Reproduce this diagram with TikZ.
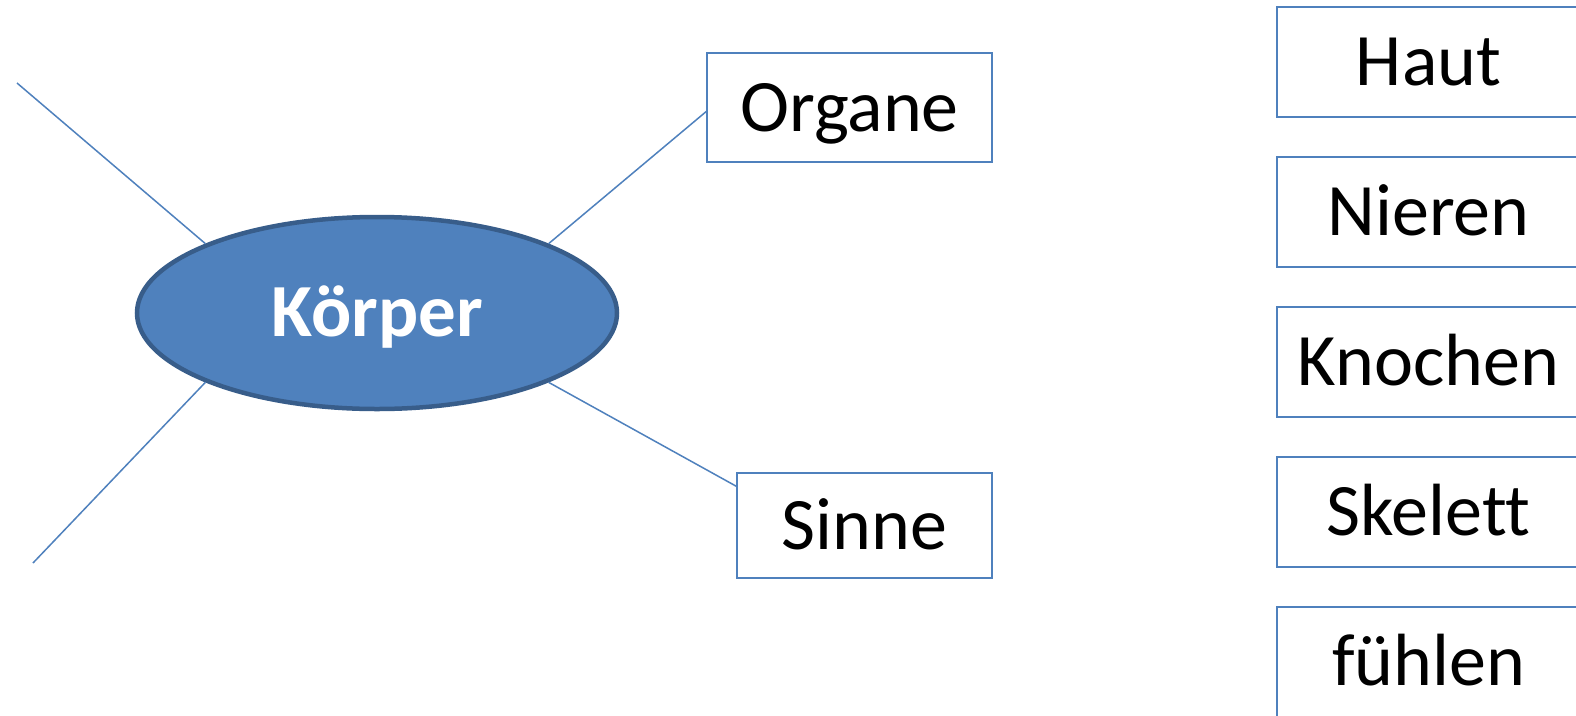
\documentclass[tikz,border=0pt]{standalone}
\usepackage{fontspec}
\setmainfont{Carlito}[Ligatures={NoCommon}]
\usetikzlibrary{shapes.geometric,calc}
\definecolor{accent}{HTML}{4F81BD}
\definecolor{accentdark}{HTML}{385D8A}
\begin{document}
\begin{tikzpicture}[x=1pt,y=-1pt,
  lbl/.style={font=\fontsize{74}{80}\selectfont, text height=47pt, text depth=0pt, inner sep=0pt},
  wordbox/.style={lbl, draw=accent, line width=1.5pt, minimum height=109pt},
  hub/.style={ellipse, fill=accent, draw=accentdark, line width=4.5pt, minimum width=480pt, minimum height=192pt, inner sep=0pt, text=white, font=\bfseries\fontsize{75}{80}\selectfont, text height=47pt, text depth=0pt},
  link/.style={draw=accent, line width=1.5pt}]
\clip (0,0) rectangle (1576,715);
\fill[white] (0,0) rectangle (1576,715);
\node[hub] (k) at (377,313) {Körper};
\node[wordbox, minimum width=285pt] (organe) at (849.5,107.5) {Organe};
\node[wordbox, minimum width=255pt, minimum height=105pt] (sinne) at (864.5,525.5) {Sinne};
\node[wordbox, minimum width=303pt, minimum height=110pt] (haut) at (1428.5,62) {Haut};
\node[wordbox, minimum width=303pt, minimum height=110pt] (nieren) at (1428.5,212) {Nieren};
\node[wordbox, minimum width=303pt, minimum height=110pt] (knochen) at (1428.5,362) {Knochen};
\node[wordbox, minimum width=303pt, minimum height=110pt] (skelett) at (1428.5,512) {Skelett};
\node[wordbox, minimum width=303pt, minimum height=110pt] (fuehlen) at (1428.5,662) {fühlen};
\coordinate (tl) at (17,83);
\coordinate (bl) at (33,563);
\draw[link] (k.22.6) -- ($(organe.west)+(0,4)$);
\draw[link] (k.-22) -- ($(sinne.north west)+(0,14)$);
\draw[link] (k.158) -- (tl);
\draw[link] (k.202) -- (bl);
\end{tikzpicture}
\end{document}
